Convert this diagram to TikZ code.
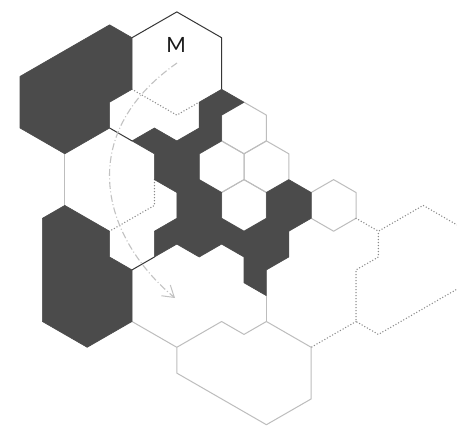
\documentclass[tikz,border=0pt]{standalone}
\usepackage{fontspec}
\setsansfont{Lato}
\usetikzlibrary{arrows.meta}
\definecolor{darkfill}{HTML}{4B4B4B}
\definecolor{darkline}{HTML}{363636}
\definecolor{lightline}{HTML}{BDBDBD}
\definecolor{dotline}{HTML}{8A8A8A}
\definecolor{arcline}{HTML}{C2C2C2}
\begin{document}
\begin{tikzpicture}[x=1pt,y=-1pt,
  darkshape/.style={fill=darkfill, draw=darkfill, line width=0.6pt, line join=round},
  lightedge/.style={draw=lightline, line width=1pt, line join=round},
  darkedge/.style={draw=darkline, line width=1pt, line join=round},
  dotedge/.style={draw=dotline, line width=1.5pt, dash pattern=on 0pt off 3pt, line cap=round},
  arcedge/.style={draw=arcline, line width=1.1pt, dash pattern=on 7pt off 2.5pt on 1pt off 2.5pt}]
\fill[white] (0,0) rectangle (457,429);
\useasboundingbox (0,0) rectangle (457,429);
\begin{scope}[shift={(244,128)}, x=22.4pt, y=-12.9pt]
  % small white hexes
  \foreach \a/\b in {0/0,-1/3,1/3,0/6,4/6}
    \draw[lightedge] (\a,\b-2) -- (\a+1,\b-1) -- (\a+1,\b+1) -- (\a,\b+2) -- (\a-1,\b+1) -- (\a-1,\b-1) -- cycle;
  % light grey lines
  \draw[lightedge] (-8,2) -- (-8,6);
  \draw[lightedge] (-5,15) -- (-3,17);
  \draw[lightedge] (1,13) -- (1,15);
  \draw[lightedge] (-3,17) -- (-3,19) -- (1,23) -- (3,21) -- (3,17) -- (1,15) -- (0,16) -- (-1,15) -- cycle;
  % dotted outlines
  \draw[dotedge] (-5,-3) -- (-3,-1) -- (-2,-2);
  \draw[dotedge] (-4,4) -- (-4,6) -- (-6,8);
  \begin{scope}
    \clip (-10.9,-10) rectangle (9.51,24);
    \draw[dotedge] (5,7) -- (6,8) -- (8,6) -- (10,8) -- (10,12) -- (6,16) -- (5,15) -- (5,11) -- (6,10) -- (6,8);
    \draw[dotedge] (5,15) -- (3,17);
  \end{scope}
  % dark lines
  \draw[darkedge] (-5,-7) -- (-3,-9) -- (-1,-7) -- (-1,-3);
  \draw[darkedge] (-6,0) -- (-5,1);
  \draw[darkedge] (-5,11) -- (-4,10);
  % dark shapes
  \draw[darkshape] (-10,-4) -- (-6,-8) -- (-5,-7) -- (-5,-3) -- (-6,-2) -- (-6,0) -- (-8,2) -- (-10,0) -- cycle;
  \draw[darkshape] (-8,6) -- (-6,8) -- (-6,10) -- (-5,11) -- (-5,15) -- (-7,17) -- (-9,15) -- (-9,7) -- cycle;
  \draw[darkshape] (-5,1) -- (-4,0) -- (-3,1) -- (-2,0) -- (-2,-2) -- (-1,-3) -- (0,-2) -- (-1,-1) -- (-1,1) -- (-2,2) -- (-2,4) -- (-1,5) -- (-1,7) -- (0,8) -- (1,7) -- (1,5) -- (2,4) -- (3,5) -- (3,7) -- (2,8) -- (2,10) -- (1,11) -- (1,13) -- (0,12) -- (0,10) -- (-1,9) -- (-2,10) -- (-3,9) -- (-4,10) -- (-4,8) -- (-3,7) -- (-3,5) -- (-4,4) -- (-4,2) -- cycle;
\end{scope}
% curved arrow
\coordinate (arcstart) at (177,63);
\coordinate (arcend) at (175,298);
\draw[arcedge, -{Straight Barb[length=11pt,width=14pt,line width=1pt]}] (arcstart) .. controls (73.5,135.5) and (102.5,237.6) .. (arcend);
\node[font=\sffamily\fontsize{21}{22}\selectfont, text=black!90, inner sep=0pt] (mlabel) at (176,44.5) {M};
\end{tikzpicture}
\end{document}
